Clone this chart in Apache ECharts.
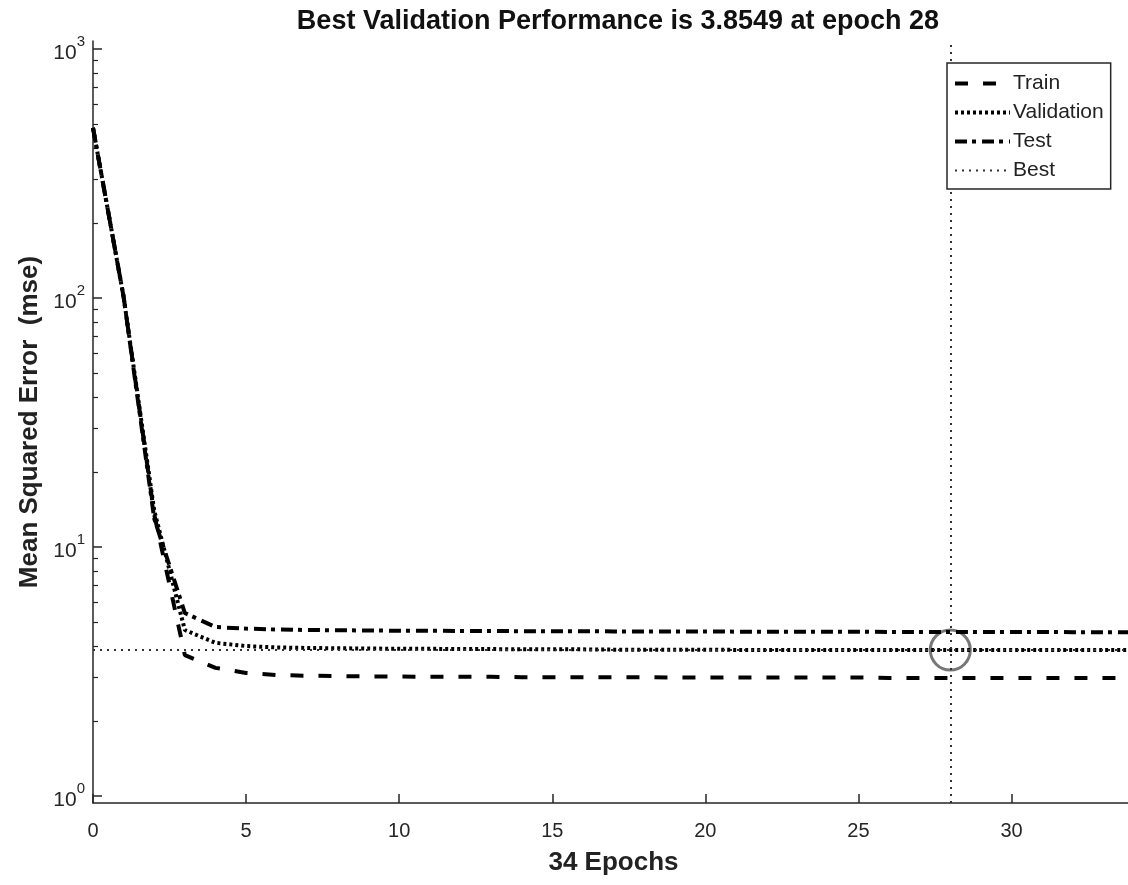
<!DOCTYPE html>
<html>
<head>
<meta charset="utf-8">
<script src="https://cdn.jsdelivr.net/npm/echarts@6/dist/echarts.min.js"></script>
<style>
  html, body { margin: 0; padding: 0; background: #fff; }
  #chart { width: 1128px; height: 885px; }
</style>
</head>
<body>
<div id="chart"></div>
<script>
// epochs 0..34
var epochs = [];
for (var i = 0; i <= 34; i++) epochs.push(i);

var trainMse = [482, 101, 13.5, 3.68, 3.27, 3.12, 3.06, 3.04, 3.03, 3.02, 3.02, 3.01, 3.01, 3.01, 3.00, 3.00, 3.00, 3.00, 3.00, 2.99, 2.99, 2.99, 2.99, 2.99, 2.99, 2.99, 2.98, 2.98, 2.98, 2.98, 2.98, 2.98, 2.98, 2.98, 2.98];
var validMse = [482, 101, 14.0, 4.64, 4.12, 4.00, 3.95, 3.93, 3.92, 3.91, 3.90, 3.90, 3.89, 3.89, 3.88, 3.88, 3.88, 3.87, 3.87, 3.87, 3.87, 3.86, 3.86, 3.86, 3.86, 3.86, 3.86, 3.855, 3.8549, 3.855, 3.855, 3.855, 3.856, 3.856, 3.856];
var testMse = [482, 101, 13.0, 5.43, 4.77, 4.70, 4.66, 4.64, 4.63, 4.62, 4.61, 4.61, 4.60, 4.60, 4.59, 4.59, 4.59, 4.58, 4.58, 4.58, 4.58, 4.57, 4.57, 4.57, 4.57, 4.57, 4.56, 4.56, 4.56, 4.56, 4.56, 4.56, 4.55, 4.55, 4.55];

var bestEpoch = 28;
var bestPerf = 3.8549;

var xTicks = [0, 5, 10, 15, 20, 25, 30];
var majorTicks = [1, 10, 100, 1000];
var minorTicks = [2, 3, 4, 5, 6, 7, 8, 9, 20, 30, 40, 50, 60, 70, 80, 90, 200, 300, 400, 500, 600, 700, 800, 900];

function pairs(ys) {
    return epochs.map(function (x, k) { return [x, ys[k]]; });
}

var chart = echarts.init(document.getElementById('chart'), null, { renderer: 'canvas' });
var axisColor = '#262626';
var font = 'Liberation Sans, Arial, sans-serif';

var option = {
    backgroundColor: '#fff',
    animation: false,
    textStyle: { fontFamily: font },
    title: {
        text: 'Best Validation Performance is 3.8549 at epoch 28',
        left: 613, top: 3, textAlign: 'center',
        textStyle: { fontSize: 27, fontWeight: 'bold', color: '#111', fontFamily: font }
    },
    legend: {
        orient: 'vertical',
        left: 947, top: 63, z: 10,
        data: [
            { name: 'Train', lineStyle: { width: 4 } },
            { name: 'Validation', lineStyle: { width: 4 } },
            { name: 'Test', lineStyle: { width: 4 } },
            { name: 'Best', lineStyle: { width: 2 } }
        ],
        itemWidth: 55, itemHeight: 14, itemGap: 8,
        padding: [10, 7, 8, 6],
        borderColor: axisColor, borderWidth: 1.5,
        backgroundColor: '#fff',
        itemStyle: { color: 'rgba(0,0,0,0)', borderWidth: 0, opacity: 0 },
        textStyle: { fontSize: 21, color: '#222', padding: [0, 0, 0, -2] }
    },
    grid: { left: 93, top: 41, width: 1041, height: 762, outerBoundsMode: 'none' },
    xAxis: {
        type: 'value', min: 0, max: 34, interval: 5,
        name: '34 Epochs', nameLocation: 'middle', nameGap: 47,
        nameTextStyle: { fontSize: 26, fontWeight: 'bold', color: '#222', padding: [0, 0, 0, 0] },
        axisLine: { lineStyle: { color: axisColor, width: 1.5 } },
        axisTick: { inside: true, length: 9, customValues: xTicks, lineStyle: { color: axisColor, width: 1.5 } },
        axisLabel: { fontSize: 20, color: axisColor, margin: 18, customValues: xTicks },
        splitLine: { show: false }
    },
    yAxis: [{
        type: 'log', logBase: 10, min: 0.937, max: 1077,
        name: 'Mean Squared Error  (mse)', nameLocation: 'middle', nameGap: 50,
        nameTextStyle: { fontSize: 26, fontWeight: 'bold', color: '#222' },
        axisLine: { lineStyle: { color: axisColor, width: 1.5 } },
        axisTick: { inside: true, length: 9, customValues: majorTicks, lineStyle: { color: axisColor, width: 1.5 } },
        axisLabel: {
            customValues: majorTicks, margin: 8, color: axisColor,
            formatter: function (v) {
                return '{b|10}{e|' + Math.round(Math.log10(v)) + '}';
            },
            rich: {
                b: { fontSize: 21, color: axisColor, verticalAlign: 'bottom', padding: [8, 0, 0, 0] },
                e: { fontSize: 15, color: axisColor, verticalAlign: 'top', padding: [0, 0, 8, 0] }
            }
        },
        splitLine: { show: false }
    }, {
        type: 'log', logBase: 10, min: 0.937, max: 1077, position: 'left',
        axisLine: { show: false },
        axisTick: { inside: true, length: 5, customValues: minorTicks, lineStyle: { color: axisColor, width: 1.2 } },
        axisLabel: { show: false },
        splitLine: { show: false }
    }],
    series: [{
        name: 'Train', type: 'line', data: pairs(trainMse), symbol: 'none',
        lineStyle: { color: '#000', width: 4, type: [13, 15] }
    }, {
        name: 'Validation', type: 'line', data: pairs(validMse), symbol: 'none',
        lineStyle: { color: '#000', width: 4, type: [3, 3] }
    }, {
        name: 'Test', type: 'line', data: pairs(testMse), symbol: 'none',
        lineStyle: { color: '#000', width: 4, type: [12, 5, 4, 6] }
    }, {
        name: 'Best', type: 'line', data: [], symbol: 'none',
        lineStyle: { color: '#333', width: 2, type: [2, 5] },
        markLine: {
            silent: true, symbol: 'none', label: { show: false },
            lineStyle: { color: '#333', width: 2, type: [2, 5] },
            data: [{ xAxis: bestEpoch }, { yAxis: bestPerf }]
        }
    }, {
        name: 'BestPoint', type: 'scatter', data: [[bestEpoch, bestPerf]],
        symbol: 'circle', symbolSize: 40, silent: true,
        itemStyle: { color: 'rgba(0,0,0,0)', borderColor: '#555', borderWidth: 3 }
    }]
};

chart.setOption(option);
</script>
</body>
</html>
